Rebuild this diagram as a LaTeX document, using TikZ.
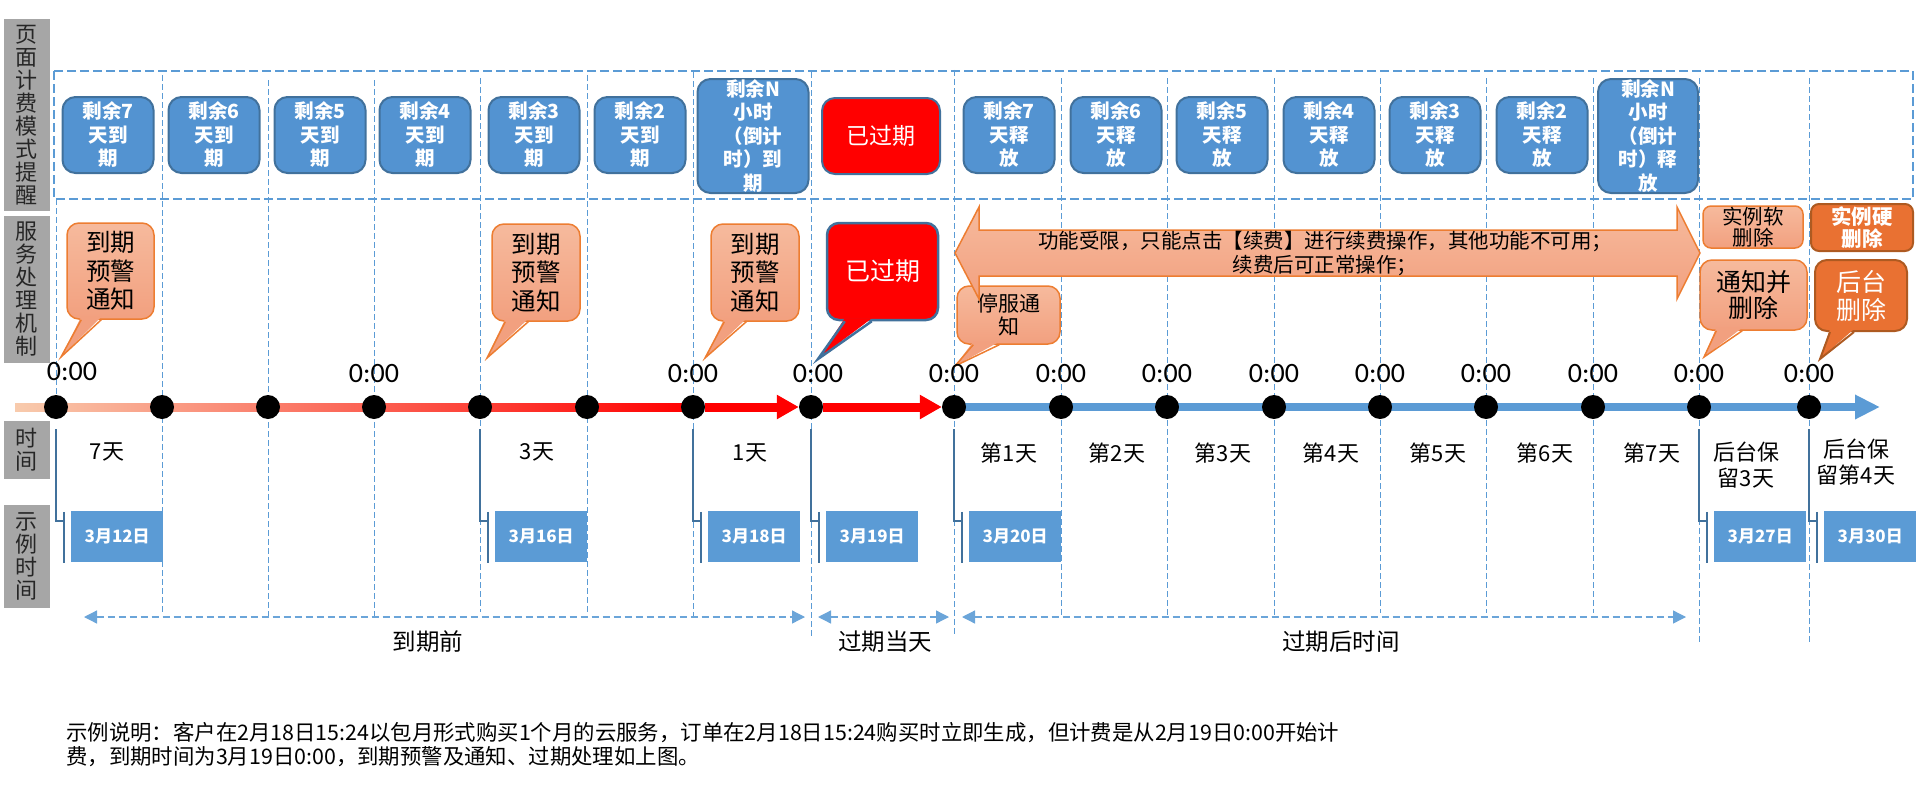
\documentclass[tikz,border=0pt]{standalone}
\usepackage{fontspec}
\setmainfont{Noto Sans CJK SC}
\newfontfamily\clockfont{Carlito}
\usetikzlibrary{calc,arrows.meta,positioning}

\definecolor{laneGray}{HTML}{A6A6A6}
\definecolor{accBlue}{HTML}{5B9BD5}
\definecolor{boxBlue}{HTML}{5393D1}
\definecolor{edgeBlue}{HTML}{41719C}
\definecolor{noteTop}{HTML}{F6BA9D}
\definecolor{noteBot}{HTML}{F2A07F}
\definecolor{noteEdge}{HTML}{ED7D31}
\definecolor{deepOrange}{HTML}{E97132}
\definecolor{deepEdge}{HTML}{AE5A21}
\definecolor{peach}{HTML}{F8CBAD}

\tikzset{
    lane/.style = {
        fill = laneGray,
        text = black!85,
        font = \fontsize{22}{23}\selectfont,
        align = center,
        inner sep = 0pt,
        minimum width = 46pt,
        },
    bill/.style = {
        draw = edgeBlue,
        line width = 2pt,
        fill = boxBlue,
        text = white,
        rounded corners = 13pt,
        font = \bfseries\fontsize{19.5}{23.5}\selectfont,
        align = center,
        inner sep = 0pt,
        minimum width = 91pt,
        minimum height = 76pt,
        },
    callbox/.style = {
        line width = 1.5pt,
        rounded corners = 12pt,
        align = center,
        inner sep = 0pt,
        font = \fontsize{24.5}{28.5}\selectfont,
        },
    notebox/.style = {
        callbox,
        draw = noteEdge,
        top color = noteTop,
        bottom color = noteBot,
        },
    alarmbox/.style = {
        callbox,
        draw = edgeBlue,
        line width = 2.5pt,
        fill = red,
        text = white,
        },
    hardbox/.style = {
        callbox,
        draw = deepEdge,
        line width = 2pt,
        fill = deepOrange,
        text = white,
        },
    dotmark/.style = {
        circle,
        fill = black,
        minimum size = 24pt,
        inner sep = 0pt,
        },
    clock/.style = {
        font = \clockfont\fontsize{28}{28}\selectfont,
        inner sep = 0pt,
        },
    datebox/.style = {
        fill = accBlue,
        text = white,
        font = \bfseries\fontsize{17}{17}\selectfont,
        minimum width = 92pt,
        minimum height = 51pt,
        inner sep = 0pt,
        },
    daylabel/.style = {
        font = \fontsize{22}{26}\selectfont,
        align = center,
        inner sep = 0pt,
        },
    guideline/.style = {
        accBlue,
        line width = 1pt,
        dash pattern = on 6pt off 3pt,
        },
    billframe/.style = {
        accBlue,
        line width = 2pt,
        dash pattern = on 9pt off 4pt,
        },
    pinline/.style = {
        edgeBlue,
        line width = 2pt,
        },
    spanarrow/.style = {
        accBlue!90,
        line width = 1.3pt,
        dash pattern = on 7pt off 4pt,
        {Triangle[length=13pt, width=13pt]}-{Triangle[length=13pt, width=13pt]},
        },
}

\begin{document}
\begin{tikzpicture}[
            x=1pt, y=-1pt,
            redarrow/.style={line width=9pt, red, -{Triangle[length=22pt, width=23pt]}},
            bluearrow/.style={line width=8pt, accBlue, -{Triangle[length=25pt, width=23pt]}},
            spantext/.style={font=\fontsize{23.5}{23.5}\selectfont, inner sep=0pt}
            ]
            \useasboundingbox (0,0) rectangle (1919,792);

            % row labels
            \node [lane, minimum height=192pt] (lanePage) at (27,115) {页\\面\\计\\费\\模\\式\\提\\醒};
            \node [lane, minimum height=147pt] (laneService) at (27,289.5) {服\\务\\处\\理\\机\\制};
            \node [lane, minimum height=58pt] (laneTime) at (27,450) {时\\间};
            \node [lane, minimum height=103pt] (laneSample) at (27,556.5) {示\\例\\时\\间};

            % day positions
            \foreach \i/\x in {1/56, 2/162, 3/268, 4/374, 5/480, 6/587, 7/693, 8/811, 9/954,
                               10/1061, 11/1167, 12/1274, 13/1380, 14/1486, 15/1593, 16/1699, 17/1809}
                \coordinate (t\i) at (\x,407);
            \coordinate (tStart) at (15,407);
            \coordinate (tEnd) at (1880,407);

            \draw [guideline] (56,199) -- (t1);
            \foreach \x/\y/\z in {162/75/612, 268/80/617, 374/80/617, 480/78/612, 587/75/612, 693/72/617,
                                  811/72/637, 954/70/635, 1061/78/615, 1167/78/615, 1274/78/615,
                                  1380/78/613, 1486/78/613, 1593/78/613, 1699/78/642, 1809/78/642}
                \draw [guideline] (\x,\y) -- (\x,\z);

            % page billing row
            \draw [billframe] (54,71) rectangle (1913,199);
            \foreach \x/\k in {108/7, 214/6, 320/5, 425/4, 534/3, 640/2}
                \node [bill] (due\k) at (\x,135) {剩余\k\\天到\\期};
            \node [bill, minimum width=111pt, minimum height=114pt] (dueN) at (753,136) {剩余N\\小时\\（倒计\\时）到\\期};
            \node [bill, fill=red, font=\fontsize{23}{26}\selectfont, minimum width=118pt] (duePast) at (881,136) {已过期};
            \foreach \x/\k in {1009/7, 1116/6, 1222/5, 1329/4, 1435/3, 1542/2}
                \node [bill] (free\k) at (\x,135) {剩余\k\\天释\\放};
            \node [bill, minimum width=100pt, minimum height=114pt] (freeN) at (1648,136) {剩余N\\小时\\（倒计\\时）释\\放};

            % service row
            \coordinate (tip7) at (61,357);
            \coordinate (tip3) at (487,358);
            \coordinate (tip1) at (705,358);
            \coordinate (tipPast) at (818,359);
            \coordinate (tipStop) at (955,366);
            \coordinate (tipNotify) at (1704,357);
            \coordinate (tipBg) at (1820,359);

            \node [notebox, minimum width=87pt, minimum height=96pt] (warn7) at (110.5,271) {到期\\预警\\通知};
            \node [notebox, minimum width=88pt, minimum height=97pt] (warn3) at (536,272.5) {到期\\预警\\通知};
            \node [notebox, minimum width=88pt, minimum height=97pt] (warn1) at (755,272.5) {到期\\预警\\通知};
            \node [alarmbox, minimum width=111pt, minimum height=97pt, font=\fontsize{25}{28}\selectfont] (pastNote) at (882.5,271.5) {已过期};
            \node [notebox, minimum width=103pt, minimum height=58pt, font=\fontsize{21}{22.5}\selectfont] (stopNote) at (1008.5,315) {停服通\\知};
            \node [notebox, rounded corners=8pt, minimum width=100pt, minimum height=42pt, font=\fontsize{20.5}{21}\selectfont] (softDel) at (1753,227) {实例软\\删除};
            \node [hardbox, rounded corners=8pt, minimum width=102pt, minimum height=47pt, font=\bfseries\fontsize{20.5}{21.5}\selectfont] (hardDel) at (1862,227.5) {实例硬\\删除};
            \node [notebox, minimum width=107pt, minimum height=70pt, font=\fontsize{25}{26.5}\selectfont] (notifyDel) at (1753.5,295) {通知并\\删除};
            \node [hardbox, minimum width=92pt, minimum height=71pt, font=\fontsize{25}{28}\selectfont] (bgDel) at (1861,295.5) {后台\\删除};

            \foreach \callnode/\baseL/\baseR/\tipname in {warn7/15/35/tip7, warn3/14/37/tip3, warn1/14/36/tip1,
                                                         stopNote/17/43/tipStop, notifyDel/17/43/tipNotify} {
                \fill [noteBot] ($(\callnode.south west)+(\baseL,-3)$) -- (\tipname) -- ($(\callnode.south west)+(\baseR,-3)$) -- cycle;
                \draw [noteEdge, line width=1.5pt] ($(\callnode.south west)+(\baseL,0)$) -- (\tipname) -- ($(\callnode.south west)+(\baseR,0)$);
            }
            \fill [red] ($(pastNote.south west)+(19,-3)$) -- (tipPast) -- ($(pastNote.south west)+(46,-3)$) -- cycle;
            \draw [edgeBlue, line width=2.5pt] ($(pastNote.south west)+(19,0)$) -- (tipPast) -- ($(pastNote.south west)+(46,0)$);
            \fill [deepOrange] ($(bgDel.south west)+(16,-3)$) -- (tipBg) -- ($(bgDel.south west)+(40,-3)$) -- cycle;
            \draw [deepEdge, line width=2pt] ($(bgDel.south west)+(16,0)$) -- (tipBg) -- ($(bgDel.south west)+(40,0)$);

            \draw [noteEdge, line width=1.5pt, top color=noteTop, bottom color=noteBot]
                (955,253) -- (979,207) -- (979,230) -- (1677,230) -- (1677,207) -- (1700,253)
                -- (1677,299) -- (1677,276) -- (979,276) -- (979,299) -- cycle;
            \node [font=\fontsize{20.5}{24}\selectfont, align=center, inner sep=0pt] (limitText) at (1325,253)
                {功能受限，只能点击【续费】进行续费操作，其他功能不可用；\\续费后可正常操作；};

            % time line
            \shade [left color=peach, right color=red] ($(tStart)+(0,-4)$) rectangle ($(t7)+(0,4.5)$);
            \draw [bluearrow] (t9) -- (tEnd);
            \foreach \i in {1,...,17}
                \node [dotmark] (d\i) at (t\i) {};
            \draw [redarrow] (d7) -- (d8);
            \draw [redarrow] (d8) -- (d9);

            \node [clock] (c1) at (72,372) {0:00};
            \node [clock] (c8) at (818,374) {0:00};
            \foreach \i in {4,7,9,10,...,17}
                \node [clock] (c\i) at ($(t\i)+(0,-33)$) {0:00};

            \node [daylabel] (len7) at (107,452) {7天};
            \node [daylabel] (len3) at (537,452) {3天};
            \node [daylabel] (len1) at (750,453) {1天};
            \foreach \x/\k in {1009/1, 1117/2, 1223/3, 1331/4, 1438/5, 1545/6, 1652/7}
                \node [daylabel] (week\k) at (\x,453) {第\k 天};
            \node [daylabel] (keep3) at (1746,465) {后台保\\留3天};
            \node [daylabel] (keep4) at (1856,462) {后台保\\留第4天};

            % sample dates
            \foreach \i/\dt in {1/12, 5/16, 7/18, 8/19, 9/20, 16/27, 17/30} {
                \node [datebox, anchor=west] (date\dt) at ($(t\i)+(15,129.5)$) {3月\dt 日};
                \draw [pinline] ($(t\i)+(0,22)$) |- ($(date\dt.north west)+(-7,10)$);
                \draw [pinline] ($(date\dt.north west)+(-7,1)$) -- ($(date\dt.south west)+(-7,1)$);
            }

            % periods
            \coordinate (preL) at (84,617);
            \coordinate (preR) at (805,617);
            \coordinate (todayL) at (818,617);
            \coordinate (todayR) at (949,617);
            \coordinate (postL) at (962,617);
            \coordinate (postR) at (1686,617);
            \draw [spanarrow] (preL) -- (preR);
            \draw [spanarrow] (todayL) -- (todayR);
            \draw [spanarrow] (postL) -- (postR);
            \node [spantext] (preText) at (428,642) {到期前};
            \node [spantext] (todayText) at (885,642) {过期当天};
            \node [spantext] (postText) at (1341,642) {过期后时间};

            \node [anchor=west, align=left, inner sep=0pt, font=\fontsize{21.4}{24}\selectfont] (example) at (66,745)
                {示例说明：客户在2月18日15:24以包月形式购买1个月的云服务，订单在2月18日15:24购买时立即生成，但计费是从2月19日0:00开始计\\
                 费，到期时间为3月19日0:00，到期预警及通知、过期处理如上图。};
\end{tikzpicture}
\end{document}
